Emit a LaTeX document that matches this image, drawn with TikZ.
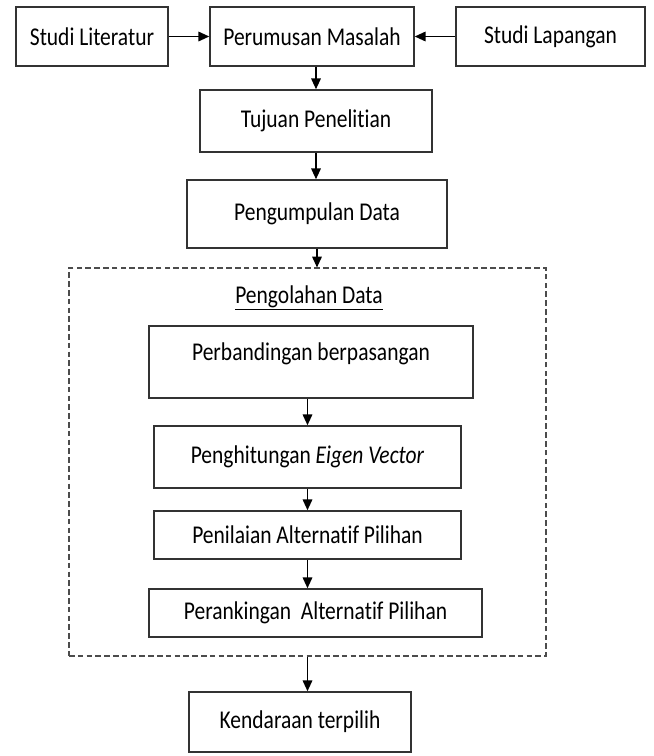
\documentclass[tikz,border=0pt]{standalone}
\usepackage{fontspec}
\setmainfont[FakeStretch=0.84, Ligatures=NoCommon]{Carlito}
\usepackage{tikz}
\usetikzlibrary{arrows.meta}
\tikzset{
	kotak/.style={draw=black!80, line width=1.1pt, fill=white, align=center, inner sep=0pt},
	panah/.style={line width=1pt, -{Triangle[length=0.27cm, width=0.24cm]}}
}

\begin{document}
\begin{tikzpicture}[font=\fontsize{18.2}{21}\selectfont]
			%%%%% START %%%%%
			
			\useasboundingbox (0, 0) rectangle (16.325, -18.9);
			
			\node[kotak, minimum width=3.8cm, minimum height=1.475cm] (lit) at (2.3, -0.9125) {Studi Literatur};
			\node[kotak, minimum width=5.1cm, minimum height=1.475cm] (rum) at (7.8, -0.9125) {Perumusan Masalah};
			\node[kotak, minimum width=4.725cm, minimum height=1.475cm] (lap) at (13.7625, -0.9125) {Studi Lapangan};
			
			\node[kotak, minimum width=5.8cm, minimum height=1.55cm] (tuj) at (7.9, -3.025) {Tujuan Penelitian};
			\node[kotak, minimum width=6.5cm, minimum height=1.7cm] (kum) at (7.925, -5.35) {Pengumpulan Data};
			
			\node[draw=black!70, dashed, dash pattern=on 0.14cm off 0.08cm, line width=0.8pt, minimum width=11.925cm, minimum height=9.7cm] (olah) at (7.6875, -11.55) {};
			\node (judul) at (7.725, -7.45) {\underline{Pengolahan Data}};
			
			\node[kotak, minimum width=8.1cm, minimum height=1.8cm, text depth=0.5cm] (band) at (7.775, -9.05) {Perbandingan berpasangan};
			\node[kotak, minimum width=7.675cm, minimum height=1.55cm] (eig) at (7.6875, -11.425) {Penghitungan \textit{Eigen Vector}};
			\node[kotak, minimum width=7.675cm, minimum height=1.2cm] (nil) at (7.6875, -13.375) {Penilaian Alternatif Pilihan};
			\node[kotak, minimum width=8.325cm, minimum height=1.2cm] (rank) at (7.8875, -15.325) {Perankingan~ Alternatif Pilihan};
			
			\node[kotak, minimum width=5.55cm, minimum height=1.5cm] (ken) at (7.5, -18.05) {Kendaraan terpilih};
			
			\draw[panah] (lit) -- (rum);
			\draw[panah] (lap) -- (rum);
			\draw[panah] (tuj.north |- rum.south) -- (tuj.north);
			\draw[panah] (tuj.south) -- (tuj.south |- kum.north);
			\draw[panah] (kum.south) -- (kum.south |- olah.north);
			
			\draw[panah] (eig.north |- band.south) -- (eig.north);
			\draw[panah] (eig.south) -- (nil.north);
			\draw[panah] (nil.south) -- (nil.south |- rank.north);
			
			\draw[panah] (nil.south |- olah.south) -- (nil.south |- ken.north);
			
			%%%%% END %%%%%
\end{tikzpicture}
\end{document}
